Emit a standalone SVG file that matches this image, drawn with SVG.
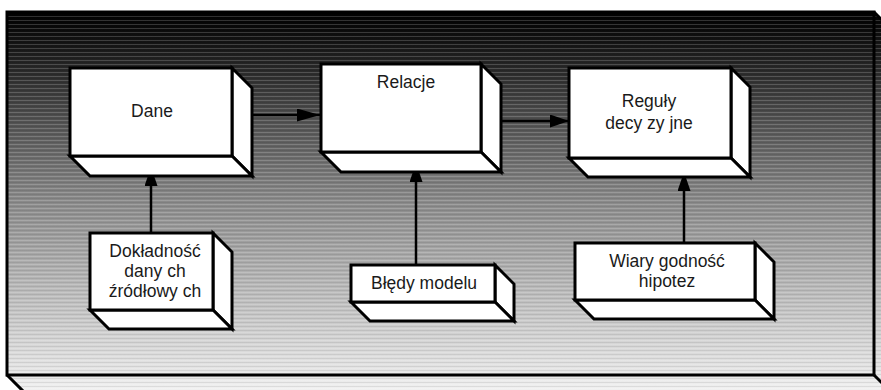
<svg xmlns="http://www.w3.org/2000/svg" width="881" height="390" viewBox="0 0 881 390">
  <defs>
    <linearGradient id="bg" gradientUnits="userSpaceOnUse" x1="0" y1="12" x2="0" y2="393">
      <stop offset="0" stop-color="#000000"/>
      <stop offset="0.08" stop-color="#141414"/>
      <stop offset="0.3" stop-color="#555555"/>
      <stop offset="0.5" stop-color="#8a8a8a"/>
      <stop offset="0.7" stop-color="#b4b4b4"/>
      <stop offset="0.9" stop-color="#dcdcdc"/>
      <stop offset="1" stop-color="#f2f2f2"/>
    </linearGradient>
    <pattern id="stripes" patternUnits="userSpaceOnUse" x="0" y="0" width="10" height="4">
      <rect x="0" y="0" width="10" height="1" fill="#ffffff" fill-opacity="0.18"/>
      <rect x="0" y="2" width="10" height="1" fill="#000000" fill-opacity="0.08"/>
    </pattern>
    <marker id="arr" markerUnits="userSpaceOnUse" markerWidth="20" markerHeight="14" refX="19" refY="6.5" orient="auto">
      <path d="M0,0 L19,6.5 L0,13 z" fill="#000"/>
    </marker>
    <marker id="arrL" markerUnits="userSpaceOnUse" markerWidth="24" markerHeight="14" refX="23" refY="6.5" orient="auto">
      <path d="M0,0 L23,6.5 L0,13 z" fill="#000"/>
    </marker>
  </defs>
  <style>
    .face { fill: #ffffff; stroke: #000000; stroke-width: 3; stroke-linejoin: miter; }
    .frame { fill: none; stroke: #000000; stroke-width: 3; }
    .lbl { font-family: "Liberation Sans", Arial, sans-serif; font-size: 17.5px; fill: #1a1a1a; text-anchor: middle; }
    .conn { stroke: #000000; stroke-width: 2.5; fill: none; }
  </style>

  <rect x="0" y="0" width="881" height="390" fill="#ffffff"/>

  <g id="frame">
    <path d="M7,12 L874,12 L892,30 L892,393 L25,393 L7,375 Z" fill="url(#bg)"/>
    <path d="M7,12 L874,12 L892,30 L892,393 L25,393 L7,375 Z" fill="url(#stripes)"/>
    <rect class="frame" x="7" y="12" width="867" height="363"/>
    <path class="frame" d="M7,375 L25,393 M874,375 L892,393 M874,12 L892,30"/>
  </g>

  <g id="connectors">
    <line class="conn" x1="245" y1="115" x2="320" y2="115" marker-end="url(#arrL)"/>
    <line class="conn" x1="500" y1="121" x2="569" y2="121" marker-end="url(#arr)"/>
    <line class="conn" x1="151" y1="233" x2="151" y2="167" marker-end="url(#arr)"/>
    <line class="conn" x1="416" y1="265" x2="416" y2="163" marker-end="url(#arr)"/>
    <line class="conn" x1="684" y1="243" x2="684" y2="172" marker-end="url(#arr)"/>
  </g>

  <g id="dane">
    <polygon class="face" points="232,68 252,88 252,176 232,156"/>
    <polygon class="face" points="70,156 232,156 252,176 90,176"/>
    <rect class="face" x="70" y="68" width="162" height="88"/>
    <text class="lbl" x="152" y="117">Dane</text>
  </g>

  <g id="relacje">
    <polygon class="face" points="481,64 501,84 501,172 481,152"/>
    <polygon class="face" points="321,152 481,152 501,172 341,172"/>
    <rect class="face" x="321" y="64" width="160" height="88"/>
    <text class="lbl" x="406" y="88">Relacje</text>
  </g>

  <g id="reguly">
    <polygon class="face" points="731,68 750,87 750,177 731,158"/>
    <polygon class="face" points="569,158 731,158 750,177 588,177"/>
    <rect class="face" x="569" y="68" width="162" height="90"/>
    <text class="lbl" x="649" y="107">Reguły</text>
    <text class="lbl" x="649" y="129">decy zy jne</text>
  </g>

  <g id="dokladnosc">
    <polygon class="face" points="213,233 232,252 232,329 213,310"/>
    <polygon class="face" points="90,310 213,310 232,329 109,329"/>
    <rect class="face" x="90" y="233" width="123" height="77"/>
    <text class="lbl" x="155" y="257">Dokładność</text>
    <text class="lbl" x="155" y="277">dany ch</text>
    <text class="lbl" x="155" y="297">źródłowy ch</text>
  </g>

  <g id="bledy">
    <polygon class="face" points="495,265 514,284 514,321 495,302"/>
    <polygon class="face" points="351,302 495,302 514,321 370,321"/>
    <rect class="face" x="351" y="265" width="144" height="37"/>
    <text class="lbl" x="424" y="289">Błędy modelu</text>
  </g>

  <g id="wiarygodnosc">
    <polygon class="face" points="755,243 774,262 774,319 755,300"/>
    <polygon class="face" points="575,300 755,300 774,319 594,319"/>
    <rect class="face" x="575" y="243" width="180" height="57"/>
    <text class="lbl" x="667" y="267">Wiary godność</text>
    <text class="lbl" x="667" y="287">hipotez</text>
  </g>
</svg>
